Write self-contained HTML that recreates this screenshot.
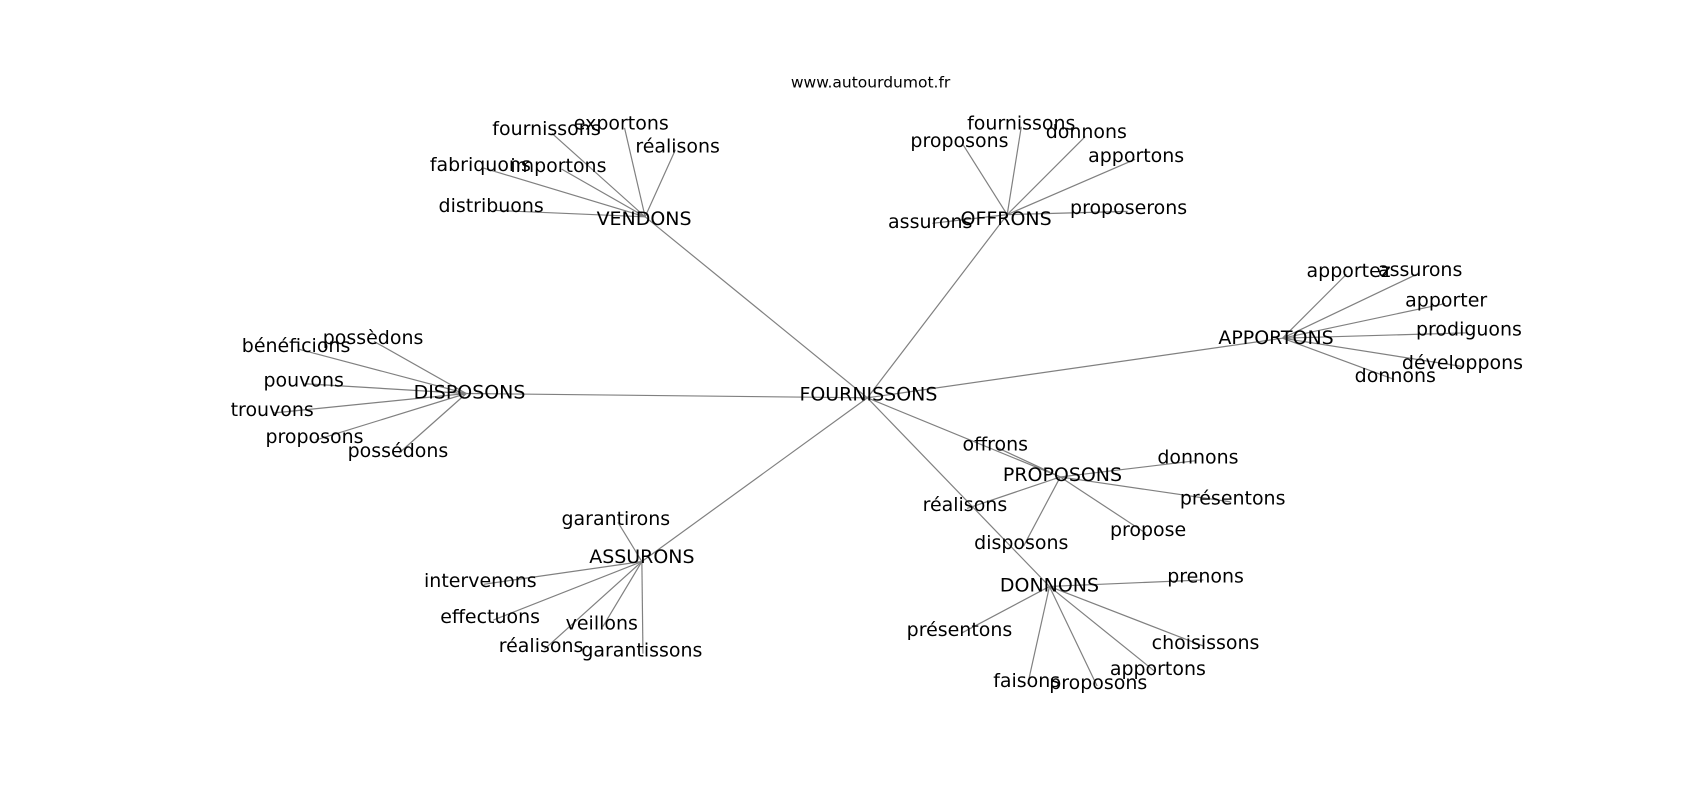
<!DOCTYPE html>
<html><head><meta charset="utf-8"><style>
html,body{margin:0;padding:0;background:#fff;}
svg{display:block;}
text{font-family:"DejaVu Sans","Liberation Sans",sans-serif;fill:#000;}
</style></head><body>
<svg width="1700" height="800" viewBox="0 0 1568 738" xmlns="http://www.w3.org/2000/svg">
<g stroke="#808080" stroke-width="1.1" fill="none">
<!-- center -->
<line x1="800" y1="367" x2="595" y2="200"/>
<line x1="800" y1="367" x2="929" y2="198"/>
<line x1="800" y1="367" x2="1183" y2="312"/>
<line x1="800" y1="367" x2="430" y2="363"/>
<line x1="800" y1="367" x2="592" y2="518"/>
<line x1="800" y1="367" x2="978" y2="440"/>
<line x1="800" y1="367" x2="968" y2="541"/>
<!-- VENDONS -->
<line x1="595" y1="200" x2="509" y2="123"/>
<line x1="595" y1="200" x2="576" y2="118"/>
<line x1="595" y1="200" x2="623" y2="138"/>
<line x1="595" y1="200" x2="446" y2="155"/>
<line x1="595" y1="200" x2="518" y2="156"/>
<line x1="595" y1="200" x2="455" y2="194"/>
<!-- OFFRONS -->
<line x1="929" y1="198" x2="942" y2="117"/>
<line x1="929" y1="198" x2="888" y2="133"/>
<line x1="929" y1="198" x2="1001" y2="126"/>
<line x1="929" y1="198" x2="1047" y2="147"/>
<line x1="929" y1="198" x2="1040" y2="195"/>
<line x1="929" y1="198" x2="860" y2="206"/>
<!-- APPORTONS -->
<line x1="1183" y1="312" x2="1242" y2="253"/>
<line x1="1183" y1="312" x2="1309" y2="252"/>
<line x1="1183" y1="312" x2="1333" y2="280"/>
<line x1="1183" y1="312" x2="1354" y2="307"/>
<line x1="1183" y1="312" x2="1348" y2="338"/>
<line x1="1183" y1="312" x2="1286" y2="350"/>
<!-- DISPOSONS -->
<line x1="430" y1="363" x2="345" y2="315"/>
<line x1="430" y1="363" x2="275" y2="322"/>
<line x1="430" y1="363" x2="281" y2="354"/>
<line x1="430" y1="363" x2="252" y2="381"/>
<line x1="430" y1="363" x2="291" y2="406"/>
<line x1="430" y1="363" x2="368" y2="418"/>
<!-- ASSURONS -->
<line x1="592" y1="518" x2="570" y2="482"/>
<line x1="592" y1="518" x2="446" y2="539"/>
<line x1="592" y1="518" x2="455" y2="572"/>
<line x1="592" y1="518" x2="556" y2="578"/>
<line x1="592" y1="518" x2="502" y2="599"/>
<line x1="592" y1="518" x2="593" y2="603"/>
<!-- PROPOSONS -->
<line x1="978" y1="440" x2="920" y2="413"/>
<line x1="978" y1="440" x2="1103" y2="425"/>
<line x1="978" y1="440" x2="1135" y2="463"/>
<line x1="978" y1="440" x2="1057" y2="492"/>
<line x1="978" y1="440" x2="892" y2="469"/>
<line x1="978" y1="440" x2="944" y2="504"/>
<!-- DONNONS -->
<line x1="968" y1="541" x2="1110" y2="535"/>
<line x1="968" y1="541" x2="887" y2="584"/>
<line x1="968" y1="541" x2="1110" y2="596"/>
<line x1="968" y1="541" x2="1066" y2="620"/>
<line x1="968" y1="541" x2="948" y2="631"/>
<line x1="968" y1="541" x2="1012" y2="633"/>
</g>
<g font-size="17.5" text-anchor="middle" dominant-baseline="central">
<text x="803" y="76" font-size="14.3">www.autourdumot.fr</text>
<text x="801" y="364">FOURNISSONS</text>
<text x="594" y="202">VENDONS</text>
<text x="504" y="119">fournissons</text>
<text x="573" y="114">exportons</text>
<text x="625" y="135">réalisons</text>
<text x="443" y="152">fabriquons</text>
<text x="515" y="153">importons</text>
<text x="453" y="190">distribuons</text>
<text x="928" y="202">OFFRONS</text>
<text x="942" y="114">fournissons</text>
<text x="885" y="130">proposons</text>
<text x="1002" y="122">donnons</text>
<text x="1048" y="144">apportons</text>
<text x="1041" y="192">proposerons</text>
<text x="858" y="205">assurons</text>
<text x="1177" y="312">APPORTONS</text>
<text x="1244" y="250">apportez</text>
<text x="1310" y="249">assurons</text>
<text x="1334" y="277">apporter</text>
<text x="1355" y="304">prodiguons</text>
<text x="1349" y="335">développons</text>
<text x="1287" y="347">donnons</text>
<text x="433" y="362">DISPOSONS</text>
<text x="344" y="312">possèdons</text>
<text x="273" y="319">bénéficions</text>
<text x="280" y="351">pouvons</text>
<text x="251" y="378">trouvons</text>
<text x="290" y="403">proposons</text>
<text x="367" y="416">possédons</text>
<text x="592" y="514">ASSURONS</text>
<text x="568" y="479">garantirons</text>
<text x="443" y="536">intervenons</text>
<text x="452" y="569">effectuons</text>
<text x="555" y="575">veillons</text>
<text x="499" y="596">réalisons</text>
<text x="592" y="600">garantissons</text>
<text x="980" y="438">PROPOSONS</text>
<text x="918" y="410">offrons</text>
<text x="1105" y="422">donnons</text>
<text x="1137" y="460">présentons</text>
<text x="1059" y="489">propose</text>
<text x="890" y="466">réalisons</text>
<text x="942" y="501">disposons</text>
<text x="968" y="540">DONNONS</text>
<text x="1112" y="532">prenons</text>
<text x="885" y="581">présentons</text>
<text x="1112" y="593">choisissons</text>
<text x="1068" y="617">apportons</text>
<text x="947" y="628">faisons</text>
<text x="1013" y="630">proposons</text>
</g>
</svg>
</body></html>
